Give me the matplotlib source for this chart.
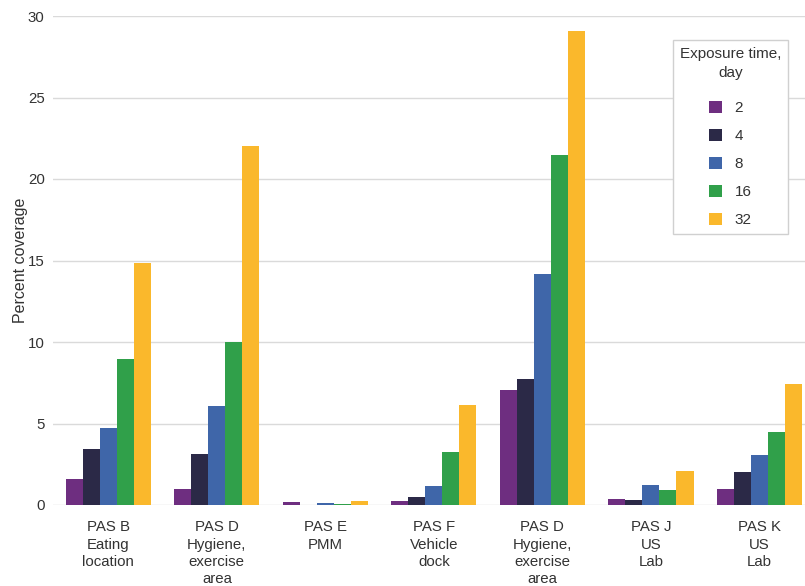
import matplotlib
matplotlib.use("Agg")
import matplotlib.pyplot as plt
import numpy as np

plt.rcParams['font.family'] = ['Liberation Sans', 'DejaVu Sans']

categories = ["PAS B\nEating\nlocation", "PAS D\nHygiene,\nexercise\narea", "PAS E\nPMM",
              "PAS F\nVehicle\ndock", "PAS D\nHygiene,\nexercise\narea", "PAS J\nUS\nLab",
              "PAS K\nUS\nLab"]
series_labels = ["2", "4", "8", "16", "32"]
day2 = [1.58, 0.98, 0.20, 0.27, 7.05, 0.37, 0.98]
day4 = [3.43, 3.10, 0.02, 0.50, 7.70, 0.30, 2.05]
day8 = [4.72, 6.10, 0.14, 1.17, 14.15, 1.20, 3.05]
day16 = [8.95, 10.0, 0.08, 3.25, 21.5, 0.92, 4.47]
day32 = [14.85, 22.0, 0.22, 6.15, 29.05, 2.08, 7.40]
series = [day2, day4, day8, day16, day32]
colors = ["#6e2e80", "#2b2947", "#3f66a9", "#30a04a", "#fab82c"]

W, H = 805, 586
fig = plt.figure(figsize=(W / 100, H / 100), dpi=100)
ax = fig.add_axes([53 / W, 81 / H, 1 - 53 / W, (505 - 16) / H])

x = np.arange(len(categories))
bw = 0.157
for i, (vals, col, lab) in enumerate(zip(series, colors, series_labels)):
    ax.bar(x + (i - 2) * bw, vals, width=bw, color=col, label=lab, zorder=3)

ax.set_xlim(-0.51, 6.42)
ax.set_ylim(0, 30)
ax.set_yticks([0, 5, 10, 15, 20, 25, 30])
ax.yaxis.grid(True, color="#dadada", linewidth=1.0, zorder=0)
ax.set_axisbelow(True)
for s in ax.spines.values():
    s.set_visible(False)
ax.tick_params(axis="y", length=0, pad=6, labelsize=10.8, labelcolor="#333333")
ax.tick_params(axis="x", length=0, pad=11, labelsize=10.8, labelcolor="#333333")
ax.set_xticks(x)
ax.set_xticklabels(categories, linespacing=1.3)
ax.set_ylabel("Percent coverage", fontsize=11.5, color="#333333", labelpad=0)

leg = ax.legend(title="Exposure time,\nday", loc="upper right",
                bbox_to_anchor=(788 / W, 1 - 40 / H), bbox_transform=fig.transFigure,
                borderaxespad=0, fontsize=11, title_fontsize=11,
                handlelength=0.85, handleheight=0.85, handletextpad=0.8,
                labelspacing=0.9, alignment="center", fancybox=False,
                borderpad=0.45, framealpha=1)
leg._legend_box.sep = 14.5
leg.get_frame().set_edgecolor("#d0d0d0")
leg.get_frame().set_linewidth(1.0)
leg.get_title().set_multialignment("center")
leg.get_title().set_color("#333333")
leg.get_title().set_linespacing(1.5)
for t in leg.get_texts():
    t.set_color("#333333")

fig.savefig("out.png", dpi=100, facecolor="white")
